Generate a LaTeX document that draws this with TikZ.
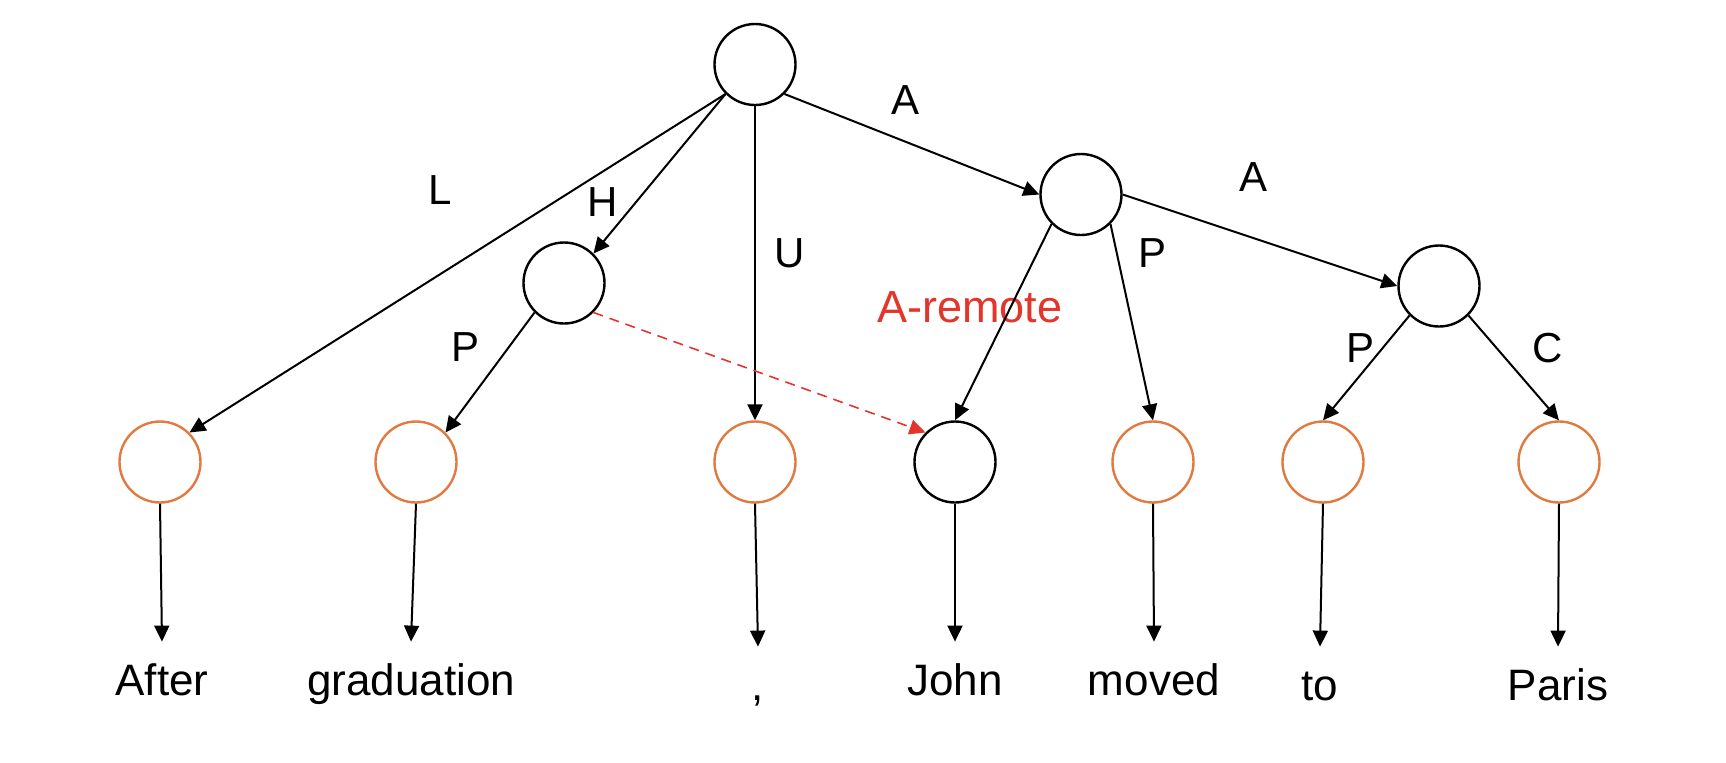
\documentclass[tikz,border=0pt]{standalone}
\usepackage{fontspec}
\setmainfont{Liberation Sans}
\usepackage{xcolor}
\usepackage{tikz}
\usetikzlibrary{arrows.meta}

\definecolor{leaforange}{RGB}{224,122,63}
\definecolor{remotered}{RGB}{226,53,43}

\begin{document}
\begin{tikzpicture}[x=0.5pt, y=-0.5pt,
                    unitnode/.style={circle,draw,line width=1.2pt,
                    minimum size=40.5pt,inner sep=0pt},
                    leafnode/.style={unitnode,draw=leaforange},
                    link/.style={-{Triangle[length=8pt,width=7.5pt]},line width=1pt},
                    remotelink/.style={link,remotered,line width=0.8pt,
                    dash pattern=on 5pt off 3.5pt},
                    elabel/.style={font=\fontsize{21pt}{25pt}\selectfont},
                    word/.style={font=\fontsize{22pt}{26pt}\selectfont,anchor=base,
                    text height=16pt,inner xsep=0pt,inner ysep=10.5pt}]
    \useasboundingbox (0,0) rectangle (1726,762);

    % inner units
    \node[unitnode](root) at (755,64.5) {};
    \node[unitnode](hnode) at (564,283) {};
    \node[unitnode](anode) at (1081,194.5) {};
    \node[unitnode](atwo) at (1439,286) {};

    % terminal units
    \node[leafnode](uafter) at (160,462) {};
    \node[leafnode](ugrad) at (416,462) {};
    \node[leafnode](ucomma) at (755,462) {};
    \node[unitnode](ujohn) at (955,462) {};
    \node[leafnode](umoved) at (1153,462) {};
    \node[leafnode](uto) at (1323,462) {};
    \node[leafnode](uparis) at (1559,462) {};

    % tokens
    \node[word](tafter) at (162,695) {After};
    \node[word](tgrad) at (411,695) {graduation};
    \node[word](tcomma) at (758,700) {,};
    \node[word](tjohn) at (955,695) {John};
    \node[word](tmoved) at (1154,695) {moved};
    \node[word](tto) at (1320,700) {to};
    \node[word](tparis) at (1558,700) {Paris};

    % edge labels
    \node[elabel](lL) at (440,190) {L};
    \node[elabel](lH) at (603,202) {H};
    \node[elabel](lU) at (790,253) {U};
    \node[elabel](lA) at (905,100) {A};
    \node[elabel](lAtwo) at (1253,177) {A};
    \node[elabel](lPa) at (1152,253) {P};
    \node[elabel,text=remotered,font=\fontsize{22.5pt}{26pt}\selectfont](lremote) at (970,307) {A-remote};
    \node[elabel](lPh) at (466,347) {P};
    \node[elabel](lPt) at (1360,348) {P};
    \node[elabel](lC) at (1548,348) {C};

    \draw[link] (root.-135) -- (uafter.45);
    \draw[link] (root.-135) -- (hnode.45);
    \draw[link] (root.south) -- (ucomma.north);
    \draw[link] (root.-45) -- (anode.west);
    \draw[link] (hnode.-135) -- (ugrad.45);
    \draw[remotelink] (hnode.-45) -- (ujohn.135);
    \draw[link] (anode.-135) -- (ujohn.north);
    \draw[link] (anode.-45) -- (umoved.north);
    \draw[link] (anode.east) -- (atwo.west);
    \draw[link] (atwo.-135) -- (uto.north);
    \draw[link] (atwo.-45) -- (uparis.north);

    \foreach \n in {after,grad,comma,john,moved,to,paris}
        \draw[link] (u\n.south) -- (t\n.north);
\end{tikzpicture}
\end{document}
